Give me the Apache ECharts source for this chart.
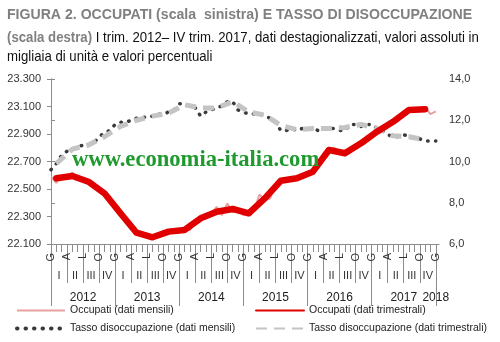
<!DOCTYPE html>
<html>
<head>
<meta charset="utf-8">
<script src="https://cdn.jsdelivr.net/npm/echarts@6/dist/echarts.min.js"></script>
<style>html,body{margin:0;padding:0;background:#fff;}#c{width:500px;height:342px;}</style>
</head>
<body>
<div id="c"></div>
<script>
// Month index 0 = gennaio 2012 ... 72 = gennaio 2018
const occupatiMensili = [
  22590, 22545, 22600, 22590, 22620, 22575, 22560, 22555, 22540, 22500, 22470, 22440,
  22370, 22320, 22280, 22220, 22180, 22160, 22150, 22140, 22160, 22180, 22190, 22200,
  22195, 22210, 22200, 22270, 22300, 22285, 22320, 22370, 22310, 22395, 22330, 22350,
  22310, 22330, 22340, 22460, 22420, 22430, 22540, 22560, 22580, 22570, 22580, 22590,
  22600, 22630, 22650, 22760, 22790, 22800, 22770, 22740, 22770, 22810, 22830, 22850,
  22890, 22920, 22940, 22960, 22990, 23020, 23060, 23070, 23090, 23080, 23095, 23045,
  23065
];
const occupatiTrimestrali = [
  22578, 22595, 22553, 22469,
  22323, 22182, 22149, 22190,
  22202, 22287, 22335, 22355,
  22323, 22432, 22560, 22578,
  22626, 22784, 22760, 22832,
  22917, 22989, 23075, 23080
];
const tassoMensili = [
  9.6, 9.9, 10.3, 10.5, 10.6, 10.7, 10.8, 10.8, 10.9, 11.2, 11.4, 11.5,
  11.8, 11.9, 11.9, 12.0, 12.1, 12.1, 12.2, 12.2, 12.3, 12.3, 12.4, 12.5,
  12.8, 12.8, 12.7, 12.6, 12.2, 12.4, 12.5, 12.6, 12.7, 12.9, 12.9, 12.5,
  12.4, 12.3, 12.3, 12.3, 12.2, 12.1, 11.9, 11.5, 11.5, 11.6, 11.5, 11.6,
  11.6, 11.6, 11.5, 11.6, 11.6, 11.6, 11.5, 11.5, 11.8, 11.8, 11.7, 11.8,
  11.8, 11.6, 11.5, 11.3, 11.2, 11.2, 11.3, 11.2, 11.1, 11.1, 11.0, 11.0,
  11.0
];
const tassoTrimestrali = [
  9.9, 10.6, 10.8, 11.2,
  11.7, 12.0, 12.2, 12.35,
  12.75, 12.6, 12.6, 12.9,
  12.4, 12.25, 11.75, 11.55,
  11.6, 11.6, 11.65, 11.8,
  11.6, 11.25, 11.2, 11.05
];
const meseLabels = ['G', 'A', 'L', 'O'];
const trimLabels = ['I', 'II', 'III', 'IV'];
const anni = ['2012', '2013', '2014', '2015', '2016', '2017', '2018'];
const leftTicks = [22100, 22300, 22500, 22700, 22900, 23100, 23300];
const rightTicks = [6, 8, 10, 12, 14];

const FONT = "'Liberation Sans', Arial, sans-serif";
const nMonths = 72;
const monthTicks = Array.from({length: nMonths + 1}, (_, i) => i);
const quarterTicks = monthTicks.filter(i => i % 3 === 0);
const quarterMid = Array.from({length: 24}, (_, q) => q * 3 + 1.5);
const yearTicks = monthTicks.filter(i => i % 12 === 0);
const yearLabelPos = anni.map((y, i) => i < anni.length - 1 ? i * 12 + 6 : nMonths);

const mensPts = arr => arr.map((v, i) => [i, v]);
const trimPts = arr => arr.map((v, q) => [q * 3 + 1, v]);

const axisColor = '#8c8c8c';
const baseX = {
  type: 'value', min: 0, max: 72.6, position: 'bottom', offset: 0,
  splitLine: {show: false}, axisLine: {show: false},
  axisTick: {show: false}, axisLabel: {show: false}
};

const titleRich = {
  b: {fontFamily: FONT, fontSize: 15, fontWeight: 'bold', fill: '#808080'},
  n: {fontFamily: FONT, fontSize: 15, fontWeight: 'normal', fill: '#111'}
};
function titleLine(text, y, sx) {
  return {
    type: 'text', x: 7, y: y, scaleX: sx, originX: 0, z: 100,
    style: {text: text, rich: titleRich, verticalAlign: 'top', align: 'left'}
  };
}

const legendCommon = {
  orient: 'vertical', top: 300, itemWidth: 48, itemHeight: 10, itemGap: 7,
  textStyle: {fontFamily: FONT, fontSize: 10.5, color: '#222'},
  itemStyle: {opacity: 0}
};

const chart = echarts.init(document.getElementById('c'), null, {renderer: 'canvas'});
chart.setOption({
  animation: false,
  backgroundColor: '#fff',
  grid: {left: 51, right: 61, top: 79, bottom: 98, outerBoundsMode: 'none'},
  xAxis: [
    Object.assign({}, baseX, {
      axisLine: {show: true, lineStyle: {color: axisColor, width: 1}},
      axisTick: {show: true, customValues: monthTicks, length: 8, lineStyle: {color: axisColor}}
    }),
    Object.assign({}, baseX, {
      axisTick: {show: true, customValues: quarterTicks, length: 39, lineStyle: {color: axisColor}},
      axisLabel: {
        show: true, customValues: quarterTicks, rotate: 90, margin: 9,
        fontFamily: FONT, fontSize: 11, color: '#333',
        formatter: v => meseLabels[Math.round(v / 3) % 4]
      }
    }),
    Object.assign({}, baseX, {
      axisLabel: {
        show: true, customValues: quarterMid, margin: 26,
        fontFamily: FONT, fontSize: 11, color: '#333',
        formatter: v => trimLabels[Math.round((v - 1.5) / 3) % 4]
      }
    }),
    Object.assign({}, baseX, {
      axisTick: {show: true, customValues: yearTicks, length: 62, lineStyle: {color: axisColor}},
      axisLabel: {
        show: true, customValues: yearLabelPos, margin: 48,
        fontFamily: FONT, fontSize: 12, color: '#222',
        formatter: v => anni[v >= nMonths ? anni.length - 1 : Math.floor(v / 12)]
      }
    })
  ],
  yAxis: [
    {
      type: 'value', min: leftTicks[0], max: leftTicks[leftTicks.length - 1], interval: 200,
      position: 'left',
      splitLine: {show: false},
      axisLine: {show: true, lineStyle: {color: axisColor}},
      axisTick: {show: true, length: 4, lineStyle: {color: axisColor}},
      axisLabel: {
        margin: 10, fontFamily: FONT, fontSize: 11, color: '#333',
        formatter: v => String(v).replace(/(\d{2})(\d{3})$/, '$1.$2')
      }
    },
    {
      type: 'value', min: rightTicks[0], max: rightTicks[rightTicks.length - 1], interval: 2,
      position: 'right',
      splitLine: {show: false},
      axisLine: {show: true, lineStyle: {color: axisColor}},
      axisTick: {show: true, length: 4, lineStyle: {color: axisColor}},
      axisLabel: {
        margin: 10, fontFamily: FONT, fontSize: 11, color: '#333',
        formatter: v => v.toFixed(1).replace('.', ',')
      }
    }
  ],
  legend: [
    Object.assign({}, legendCommon, {
      left: 10,
      data: [
        {name: 'Occupati (dati mensili)'},
        {name: 'Tasso disoccupazione (dati mensili)', lineStyle: {width: 4, type: [0.5, 8], cap: 'round'}}
      ]
    }),
    Object.assign({}, legendCommon, {
      left: 250,
      data: [
        {name: 'Occupati (dati trimestrali)'},
        {name: 'Tasso disoccupazione (dati trimestrali)'}
      ]
    })
  ],
  graphic: [
    titleLine('{b|FIGURA 2. OCCUPATI (scala  sinistra) E TASSO DI DISOCCUPAZIONE}', 7, 0.94),
    titleLine('{b|(scala destra)}{n| I trim. 2012\u2013 IV trim. 2017, dati destagionalizzati, valori assoluti in}', 30, 0.88),
    titleLine('{n|migliaia di unità e valori percentuali}', 49, 0.88),
    {
      type: 'text', left: 72, top: 149, z: 100,
      style: {
        text: 'www.economia-italia.com',
        font: "bold 22.6px 'Liberation Serif', 'DejaVu Serif', serif",
        fill: '#1f9a2e'
      }
    }
  ],
  series: [
    {
      name: 'Tasso disoccupazione (dati mensili)', type: 'line', xAxisIndex: 0, yAxisIndex: 1,
      data: mensPts(tassoMensili), symbol: 'none', z: 2,
      lineStyle: {color: '#3a3a3a', width: 3.5, type: [0.5, 7.5], cap: 'round'},
      itemStyle: {color: '#3a3a3a'}
    },
    {
      name: 'Tasso disoccupazione (dati trimestrali)', type: 'line', xAxisIndex: 0, yAxisIndex: 1,
      data: trimPts(tassoTrimestrali), symbol: 'none', z: 3,
      lineStyle: {color: '#c4c4c4', width: 5, type: [11, 7]},
      itemStyle: {color: '#c4c4c4'}
    },
    {
      name: 'Occupati (dati mensili)', type: 'line', xAxisIndex: 0, yAxisIndex: 0,
      data: mensPts(occupatiMensili), symbol: 'none', z: 4,
      lineStyle: {color: '#e7a1a1', width: 2},
      itemStyle: {color: '#e7a1a1'}
    },
    {
      name: 'Occupati (dati trimestrali)', type: 'line', xAxisIndex: 0, yAxisIndex: 0,
      data: trimPts(occupatiTrimestrali), symbol: 'none', z: 5,
      lineStyle: {color: '#e00000', width: 6.5, cap: 'round', join: 'round'},
      itemStyle: {color: '#e00000'}
    }
  ]
});
</script>
</body>
</html>
